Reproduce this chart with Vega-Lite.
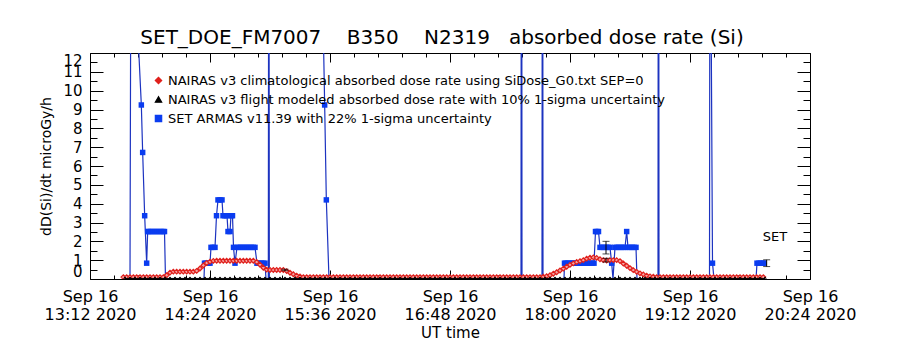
{
"$schema":"https://vega.github.io/schema/vega-lite/v6.json",
"width":720,"height":226,
"autosize":{"type":"none"},
"padding":{"left":90,"top":53,"right":90,"bottom":71},
"background":"white",
"title":{"text":"SET_DOE_FM7007\u00a0\u00a0\u00a0\u00a0B350\u00a0\u00a0\u00a0\u00a0N2319\u00a0\u00a0\u00a0absorbed dose rate (Si)","font":"DejaVu Sans","fontSize":20,"fontWeight":"normal","color":"black","anchor":"middle","offset":8,"baseline":"alphabetic","dx":-8,"dy":19},
"config":{
 "view":{"stroke":"black","strokeWidth":1},
 "axis":{"domain":false,"labelFont":"DejaVu Sans","titleFont":"DejaVu Sans","labelColor":"black","titleColor":"black","titleFontWeight":"normal","labelOverlap":false,"gridColor":"black","gridOpacity":1,"gridWidth":1},
 "legend":{"orient":"none","legendX":62,"legendY":21,"title":null,"labelFont":"DejaVu Sans","labelFontSize":13,"labelColor":"black","labelLimit":0,"symbolSize":40,"rowPadding":5,"labelOffset":3,"padding":0,"symbolStrokeWidth":1.2}
},
"datasets":{
"set":[
{"g":"a","m":24.0,"v":0},{"g":"a","m":24.6,"v":20.7},{"g":"a","m":30.8,"v":9.24},{"g":"a","m":31.6,"v":6.72},{"g":"a","m":32.8,"v":3.36},{"g":"a","m":34.0,"v":0.84},{"g":"a","m":34.6,"v":2.52},{"g":"a","m":35.4,"v":2.52},{"g":"a","m":36.6,"v":2.52},{"g":"a","m":37.8,"v":2.52},{"g":"a","m":39.0,"v":2.52},{"g":"a","m":40.2,"v":2.52},{"g":"a","m":41.4,"v":2.52},{"g":"a","m":42.6,"v":2.52},{"g":"a","m":43.8,"v":2.52},{"g":"a","m":44.7,"v":2.52},{"g":"a","m":45.3,"v":0},
{"g":"a","m":68.4,"v":0},{"g":"a","m":68.7,"v":0.84},{"g":"a","m":69.6,"v":0.84},{"g":"a","m":70.8,"v":0.84},{"g":"a","m":72.0,"v":0.84},{"g":"a","m":72.6,"v":1.68},{"g":"a","m":73.8,"v":1.68},{"g":"a","m":75.0,"v":1.68},{"g":"a","m":75.9,"v":3.36},{"g":"a","m":76.8,"v":4.2},{"g":"a","m":78.0,"v":4.2},{"g":"a","m":79.2,"v":4.2},{"g":"a","m":79.8,"v":3.36},{"g":"a","m":81.0,"v":3.36},{"g":"a","m":82.2,"v":3.36},{"g":"a","m":82.8,"v":2.52},{"g":"a","m":84.0,"v":2.52},{"g":"a","m":84.6,"v":3.36},{"g":"a","m":85.5,"v":3.36},{"g":"a","m":86.1,"v":1.68},{"g":"a","m":87.0,"v":0.84},{"g":"a","m":88.2,"v":1.68},{"g":"a","m":89.4,"v":1.68},{"g":"a","m":90.6,"v":1.68},{"g":"a","m":91.8,"v":1.68},{"g":"a","m":93.0,"v":1.68},{"g":"a","m":94.2,"v":1.68},{"g":"a","m":95.4,"v":1.68},{"g":"a","m":96.6,"v":1.68},{"g":"a","m":97.8,"v":1.68},{"g":"a","m":99.0,"v":1.68},{"g":"a","m":100.2,"v":0.84},{"g":"a","m":101.4,"v":0.84},{"g":"a","m":102.6,"v":0.84},{"g":"a","m":103.8,"v":0.84},{"g":"a","m":105.0,"v":0.84},{"g":"a","m":105.6,"v":0},
{"g":"a","m":107.0,"v":0},{"g":"a","m":107.3,"v":30},{"g":"a","m":107.6,"v":0},{"g":"a","m":139.2,"v":0},
{"g":"b","m":139.8,"v":14},{"g":"b","m":140.8,"v":9.24},{"g":"b","m":141.8,"v":4.2},{"g":"b","m":143.4,"v":0},
{"g":"b","m":258.6,"v":0},{"g":"b","m":258.9,"v":40},{"g":"b","m":259.2,"v":0},{"g":"b","m":271.2,"v":0},{"g":"b","m":271.5,"v":40},{"g":"b","m":271.8,"v":0},
{"g":"b","m":284.4,"v":0},{"g":"b","m":284.7,"v":0.84},{"g":"b","m":285.6,"v":0.84},{"g":"b","m":286.8,"v":0.84},{"g":"b","m":288.0,"v":0.84},{"g":"b","m":289.2,"v":0.84},{"g":"b","m":290.4,"v":0.84},{"g":"b","m":291.6,"v":0.84},{"g":"b","m":292.8,"v":0.84},{"g":"b","m":294.0,"v":0.84},{"g":"b","m":295.2,"v":0.84},{"g":"b","m":296.4,"v":0.84},{"g":"b","m":297.6,"v":0.84},{"g":"b","m":298.8,"v":0.84},{"g":"b","m":300.0,"v":0.84},{"g":"b","m":301.2,"v":0.84},{"g":"b","m":302.4,"v":0.84},{"g":"b","m":303.3,"v":2.52},{"g":"b","m":304.2,"v":2.52},{"g":"b","m":305.1,"v":2.52},{"g":"b","m":306.0,"v":1.68},{"g":"b","m":307.2,"v":1.68},{"g":"b","m":308.4,"v":1.68},{"g":"b","m":309.6,"v":1.68},{"g":"b","m":310.8,"v":1.68},{"g":"b","m":312.0,"v":1.68},{"g":"b","m":313.0,"v":0.84},{"g":"b","m":313.8,"v":0},{"g":"b","m":315.0,"v":1.68},{"g":"b","m":316.2,"v":1.68},{"g":"b","m":317.4,"v":1.68},{"g":"b","m":318.6,"v":1.68},{"g":"b","m":319.8,"v":1.68},{"g":"b","m":321.0,"v":1.68},{"g":"b","m":322.0,"v":2.52},{"g":"b","m":322.8,"v":1.68},{"g":"b","m":324.0,"v":1.68},{"g":"b","m":325.2,"v":1.68},{"g":"b","m":326.4,"v":1.68},{"g":"b","m":327.6,"v":1.68},{"g":"b","m":328.2,"v":0},
{"g":"b","m":340.8,"v":0},{"g":"b","m":341.1,"v":40},{"g":"b","m":341.4,"v":0},{"g":"b","m":371.7,"v":0},{"g":"b","m":372.0,"v":25},{"g":"b","m":373.5,"v":0.84},{"g":"b","m":374.4,"v":0},
{"g":"b","m":399.6,"v":0},{"g":"b","m":400.2,"v":0.84},{"g":"b","m":401.4,"v":0.84},{"g":"b","m":402.6,"v":0.84},{"g":"b","m":403.8,"v":0.84},{"g":"b","m":404.4,"v":0.84}
],
"clim":[
{"m":20,"v":0.1},{"m":22,"v":0.1},{"m":24,"v":0.1},{"m":26,"v":0.1},{"m":28,"v":0.1},{"m":30,"v":0.1},{"m":32,"v":0.1},{"m":34,"v":0.1},{"m":36,"v":0.1},{"m":38,"v":0.1},{"m":40,"v":0.1},{"m":42,"v":0.1},{"m":44,"v":0.1},{"m":46,"v":0.2},{"m":48,"v":0.34},{"m":50,"v":0.39},{"m":52,"v":0.39},{"m":54,"v":0.39},{"m":56,"v":0.39},{"m":58,"v":0.39},{"m":60,"v":0.39},{"m":62,"v":0.39},{"m":64,"v":0.43},{"m":66,"v":0.56},{"m":68,"v":0.72},{"m":70,"v":0.85},{"m":72,"v":0.92},{"m":74,"v":0.96},{"m":76,"v":0.97},{"m":78,"v":0.97},{"m":80,"v":0.97},{"m":82,"v":0.97},{"m":84,"v":0.97},{"m":86,"v":0.97},{"m":88,"v":0.97},{"m":90,"v":0.97},{"m":92,"v":0.97},{"m":94,"v":0.97},{"m":96,"v":0.97},{"m":98,"v":0.97},{"m":100,"v":0.9},{"m":102,"v":0.76},{"m":104,"v":0.6},{"m":106,"v":0.5},{"m":108,"v":0.48},{"m":110,"v":0.48},{"m":112,"v":0.48},{"m":114,"v":0.48},{"m":116,"v":0.48},{"m":118,"v":0.42},{"m":120,"v":0.33},{"m":122,"v":0.25},{"m":124,"v":0.18},{"m":126,"v":0.13},
{"m":128,"v":0.1},{"m":130,"v":0.1},{"m":132,"v":0.1},{"m":134,"v":0.1},{"m":136,"v":0.1},{"m":138,"v":0.1},{"m":140,"v":0.1},{"m":142,"v":0.1},{"m":144,"v":0.1},{"m":146,"v":0.1},{"m":148,"v":0.1},{"m":150,"v":0.1},{"m":152,"v":0.1},{"m":154,"v":0.1},{"m":156,"v":0.1},{"m":158,"v":0.1},{"m":160,"v":0.1},{"m":162,"v":0.1},{"m":164,"v":0.1},{"m":166,"v":0.1},{"m":168,"v":0.1},{"m":170,"v":0.1},{"m":172,"v":0.1},{"m":174,"v":0.1},{"m":176,"v":0.1},{"m":178,"v":0.1},{"m":180,"v":0.1},{"m":182,"v":0.1},{"m":184,"v":0.1},{"m":186,"v":0.1},{"m":188,"v":0.1},{"m":190,"v":0.1},{"m":192,"v":0.1},{"m":194,"v":0.1},{"m":196,"v":0.1},{"m":198,"v":0.1},{"m":200,"v":0.1},{"m":202,"v":0.1},{"m":204,"v":0.1},{"m":206,"v":0.1},{"m":208,"v":0.1},{"m":210,"v":0.1},{"m":212,"v":0.1},{"m":214,"v":0.1},{"m":216,"v":0.1},{"m":218,"v":0.1},{"m":220,"v":0.1},{"m":222,"v":0.1},{"m":224,"v":0.1},{"m":226,"v":0.1},{"m":228,"v":0.1},{"m":230,"v":0.1},{"m":232,"v":0.1},{"m":234,"v":0.1},{"m":236,"v":0.1},{"m":238,"v":0.1},{"m":240,"v":0.1},{"m":242,"v":0.1},{"m":244,"v":0.1},{"m":246,"v":0.1},{"m":248,"v":0.1},{"m":250,"v":0.1},{"m":252,"v":0.1},{"m":254,"v":0.1},{"m":256,"v":0.1},{"m":258,"v":0.1},{"m":260,"v":0.1},{"m":262,"v":0.1},{"m":264,"v":0.1},{"m":266,"v":0.1},{"m":268,"v":0.1},{"m":270,"v":0.1},
{"m":272,"v":0.12},{"m":274,"v":0.15},{"m":276,"v":0.2},{"m":278,"v":0.28},{"m":280,"v":0.36},{"m":282,"v":0.45},{"m":284,"v":0.55},{"m":286,"v":0.65},{"m":288,"v":0.75},{"m":290,"v":0.83},{"m":292,"v":0.9},{"m":294,"v":0.95},{"m":296,"v":1.0},{"m":298,"v":1.08},{"m":300,"v":1.13},{"m":302,"v":1.15},{"m":304,"v":1.12},{"m":306,"v":1.05},{"m":308,"v":1.0},{"m":310,"v":0.98},{"m":312,"v":1.0},{"m":314,"v":1.0},{"m":316,"v":1.0},{"m":318,"v":0.95},{"m":320,"v":0.82},{"m":322,"v":0.7},{"m":324,"v":0.58},{"m":326,"v":0.47},{"m":328,"v":0.38},{"m":330,"v":0.3},{"m":332,"v":0.24},{"m":334,"v":0.18},{"m":336,"v":0.14},{"m":338,"v":0.12},{"m":340,"v":0.1},
{"m":342,"v":0.1},{"m":344,"v":0.1},{"m":346,"v":0.1},{"m":348,"v":0.1},{"m":350,"v":0.1},{"m":352,"v":0.1},{"m":354,"v":0.1},{"m":356,"v":0.1},{"m":358,"v":0.1},{"m":360,"v":0.1},{"m":362,"v":0.1},{"m":364,"v":0.1},{"m":366,"v":0.1},{"m":368,"v":0.1},{"m":370,"v":0.1},{"m":372,"v":0.1},{"m":374,"v":0.1},{"m":376,"v":0.1},{"m":378,"v":0.1},{"m":380,"v":0.1},{"m":382,"v":0.1},{"m":384,"v":0.1},{"m":386,"v":0.1},{"m":388,"v":0.1},{"m":390,"v":0.1},{"m":392,"v":0.1},{"m":394,"v":0.1},{"m":396,"v":0.1},{"m":398,"v":0.1},{"m":400,"v":0.1},{"m":402,"v":0.1},{"m":404,"v":0.1}
],
"flight":[
{"m":21,"v":0.03},{"m":24,"v":0.03},{"m":27,"v":0.03},{"m":30,"v":0.03},{"m":33,"v":0.03},{"m":36,"v":0.03},{"m":39,"v":0.03},{"m":42,"v":0.03},{"m":45,"v":0.03},{"m":48,"v":0.03},{"m":51,"v":0.03},{"m":54,"v":0.03},{"m":57,"v":0.03},{"m":60,"v":0.03},{"m":63,"v":0.03},{"m":66,"v":0.03},{"m":69,"v":0.03},{"m":72,"v":0.03},{"m":75,"v":0.03},{"m":78,"v":0.03},{"m":81,"v":0.03},{"m":84,"v":0.03},{"m":87,"v":0.03},{"m":90,"v":0.03},{"m":93,"v":0.03},{"m":96,"v":0.03},{"m":99,"v":0.03},{"m":102,"v":0.03},{"m":105,"v":0.03},{"m":108,"v":0.03},{"m":111,"v":0.03},{"m":114,"v":0.03},{"m":117,"v":0.03},{"m":120,"v":0.03},{"m":123,"v":0.03},{"m":126,"v":0.03},{"m":129,"v":0.03},{"m":132,"v":0.03},{"m":135,"v":0.03},{"m":138,"v":0.03},{"m":141,"v":0.03},{"m":144,"v":0.03},{"m":147,"v":0.03},{"m":150,"v":0.03},{"m":153,"v":0.03},{"m":156,"v":0.03},{"m":159,"v":0.03},{"m":162,"v":0.03},{"m":165,"v":0.03},{"m":168,"v":0.03},{"m":171,"v":0.03},{"m":174,"v":0.03},{"m":177,"v":0.03},{"m":180,"v":0.03},{"m":183,"v":0.03},{"m":186,"v":0.03},{"m":189,"v":0.03},{"m":192,"v":0.03},{"m":195,"v":0.03},{"m":198,"v":0.03},{"m":201,"v":0.03},{"m":204,"v":0.03},{"m":207,"v":0.03},{"m":210,"v":0.03},{"m":213,"v":0.03},{"m":216,"v":0.03},{"m":219,"v":0.03},{"m":222,"v":0.03},{"m":225,"v":0.03},{"m":228,"v":0.03},{"m":231,"v":0.03},{"m":234,"v":0.03},{"m":237,"v":0.03},{"m":240,"v":0.03},{"m":243,"v":0.03},{"m":246,"v":0.03},{"m":249,"v":0.03},{"m":252,"v":0.03},{"m":255,"v":0.03},{"m":258,"v":0.03},{"m":261,"v":0.03},{"m":264,"v":0.03},{"m":267,"v":0.03},{"m":270,"v":0.03},{"m":273,"v":0.03},{"m":276,"v":0.03},{"m":279,"v":0.03},{"m":282,"v":0.03},{"m":285,"v":0.03},{"m":288,"v":0.03},{"m":291,"v":0.03},{"m":294,"v":0.03},{"m":297,"v":0.03},{"m":300,"v":0.03},{"m":303,"v":0.03},{"m":306,"v":0.03},{"m":309,"v":0.03},{"m":312,"v":0.03},{"m":315,"v":0.03},{"m":318,"v":0.03},{"m":321,"v":0.03},{"m":324,"v":0.03},{"m":327,"v":0.03},{"m":330,"v":0.03},{"m":333,"v":0.03},{"m":336,"v":0.03},{"m":339,"v":0.03},{"m":342,"v":0.03},{"m":345,"v":0.03},{"m":348,"v":0.03},{"m":351,"v":0.03},{"m":354,"v":0.03},{"m":357,"v":0.03},{"m":360,"v":0.03},{"m":363,"v":0.03},{"m":366,"v":0.03},{"m":369,"v":0.03},{"m":372,"v":0.03},{"m":375,"v":0.03},{"m":378,"v":0.03},{"m":381,"v":0.03},{"m":384,"v":0.03},{"m":387,"v":0.03},{"m":390,"v":0.03},{"m":393,"v":0.03},{"m":396,"v":0.03},{"m":399,"v":0.03},{"m":402,"v":0.03},{"m":405,"v":0.03}
],
"err":[
{"m":117,"lo":0.44,"hi":0.52},{"m":309.6,"lo":1.33,"hi":2.0},{"m":309.6,"lo":0.9,"hi":1.1},{"m":406,"lo":0.66,"hi":1.02}
],
"lbl":[{"m":411,"v":2.23,"t":"SET"}]
},
"layer":[
{"data":{"name":"set"},
 "mark":{"type":"line","color":"#1c33c0","strokeWidth":1.2,"clip":true},
 "encoding":{
  "x":{"field":"m","type":"quantitative","scale":{"domain":[0,432],"nice":false,"zero":false},
   "axis":{"orient":"bottom","values":[0,72,144,216,288,360,432],"ticks":false,"grid":true,"gridDash":[9,208,9],"labelFlush":false,"labelExpr":"['Sep 16', format(floor((792 + datum.value)/60), '02d') + ':' + format((792 + datum.value) % 60, '02d') + ' 2020']","labelFontSize":16,"labelBaseline":"top","labelLineHeight":18,"labelPadding":9,"title":"UT time","titleFontSize":15,"titlePadding":3}},
  "y":{"field":"v","type":"quantitative","scale":{"domain":[0,12],"nice":false,"zero":false},
   "axis":{"orient":"left","values":[0,1,2,3,4,5,6,7,8,9,10,11,12],"ticks":false,"grid":true,"gridDash":[13,694,13],"labelFontSize":15,"labelPadding":8,"labelFlush":true,"title":"dD(Si)/dt microGy/h","titleFontSize":14,"titlePadding":9}},
  "detail":{"field":"g"}
 }},
{"data":{"name":"set"},
 "transform":[{"filter":"datum.v > 0 && datum.v < 12.5"}],
 "mark":{"type":"point","filled":true,"size":30,"opacity":1,"clip":true},
 "encoding":{
  "x":{"field":"m","type":"quantitative","scale":{"domain":[0,432],"nice":false,"zero":false},
   "axis":{"orient":"top","values":[14.4,28.8,43.2,57.6,86.4,100.8,115.2,129.6,158.4,172.8,187.2,201.6,230.4,244.8,259.2,273.6,302.4,316.8,331.2,345.6,374.4,388.8,403.2,417.6],"labels":false,"ticks":false,"grid":true,"gridDash":[4,218,4],"title":null}},
  "y":{"field":"v","type":"quantitative","scale":{"domain":[0,12],"nice":false,"zero":false},
   "axis":{"orient":"right","values":[0.5,1.5,2.5,3.5,4.5,5.5,6.5,7.5,8.5,9.5,10.5,11.5],"labels":false,"ticks":false,"grid":true,"gridDash":[7,706,7],"title":null}},
  "color":{"datum":"SET ARMAS v11.39 with 22% 1-sigma uncertainty","scale":{"domain":["NAIRAS v3 climatological absorbed dose rate using SiDose_G0.txt SEP=0","NAIRAS v3 flight modeled absorbed dose rate with 10% 1-sigma uncertainty","SET ARMAS v11.39 with 22% 1-sigma uncertainty"],"range":["#e0201c","#000000","#0a3cf0"]}},
  "shape":{"datum":"SET ARMAS v11.39 with 22% 1-sigma uncertainty","scale":{"domain":["NAIRAS v3 climatological absorbed dose rate using SiDose_G0.txt SEP=0","NAIRAS v3 flight modeled absorbed dose rate with 10% 1-sigma uncertainty","SET ARMAS v11.39 with 22% 1-sigma uncertainty"],"range":["diamond","triangle-up","square"]}}
 }},
{"data":{"name":"clim"},
 "mark":{"type":"line","color":"#e0201c","strokeWidth":1,"clip":true},
 "encoding":{
  "x":{"field":"m","type":"quantitative","scale":{"domain":[0,432],"nice":false,"zero":false},"axis":null},
  "y":{"field":"v","type":"quantitative","scale":{"domain":[0,12],"nice":false,"zero":false},"axis":null}
 }},
{"data":{"name":"clim"},
 "mark":{"type":"point","filled":false,"fill":"#f5a3a3","strokeWidth":1.2,"size":22,"opacity":1,"clip":true},
 "encoding":{
  "x":{"field":"m","type":"quantitative","scale":{"domain":[0,432],"nice":false,"zero":false},"axis":null},
  "y":{"field":"v","type":"quantitative","scale":{"domain":[0,12],"nice":false,"zero":false},"axis":null},
  "color":{"datum":"NAIRAS v3 climatological absorbed dose rate using SiDose_G0.txt SEP=0"},
  "shape":{"datum":"NAIRAS v3 climatological absorbed dose rate using SiDose_G0.txt SEP=0"}
 }},
{"data":{"name":"flight"},
 "mark":{"type":"line","color":"black","strokeWidth":1,"clip":true},
 "encoding":{
  "x":{"field":"m","type":"quantitative","scale":{"domain":[0,432],"nice":false,"zero":false},"axis":null},
  "y":{"field":"v","type":"quantitative","scale":{"domain":[0,12],"nice":false,"zero":false},"axis":null}
 }},
{"data":{"name":"flight"},
 "mark":{"type":"point","filled":false,"strokeWidth":1,"size":12,"opacity":1,"clip":true},
 "encoding":{
  "x":{"field":"m","type":"quantitative","scale":{"domain":[0,432],"nice":false,"zero":false},"axis":null},
  "y":{"field":"v","type":"quantitative","scale":{"domain":[0,12],"nice":false,"zero":false},"axis":null},
  "color":{"datum":"NAIRAS v3 flight modeled absorbed dose rate with 10% 1-sigma uncertainty"},
  "shape":{"datum":"NAIRAS v3 flight modeled absorbed dose rate with 10% 1-sigma uncertainty"}
 }},
{"data":{"name":"err"},
 "mark":{"type":"errorbar","color":"black","ticks":{"size":7,"color":"black"},"thickness":1},
 "encoding":{
  "x":{"field":"m","type":"quantitative","scale":{"domain":[0,432],"nice":false,"zero":false},"axis":null},
  "y":{"field":"lo","type":"quantitative","scale":{"domain":[0,12],"nice":false,"zero":false},"axis":null},
  "y2":{"field":"hi"}
 }},
{"data":{"name":"lbl"},
 "mark":{"type":"text","font":"DejaVu Sans","fontSize":13,"color":"black","align":"center","baseline":"middle"},
 "encoding":{
  "x":{"field":"m","type":"quantitative","scale":{"domain":[0,432],"nice":false,"zero":false},"axis":null},
  "y":{"field":"v","type":"quantitative","scale":{"domain":[0,12],"nice":false,"zero":false},"axis":null},
  "text":{"field":"t"}
 }}
],
"resolve":{"axis":{"x":"independent","y":"independent"}}
}
